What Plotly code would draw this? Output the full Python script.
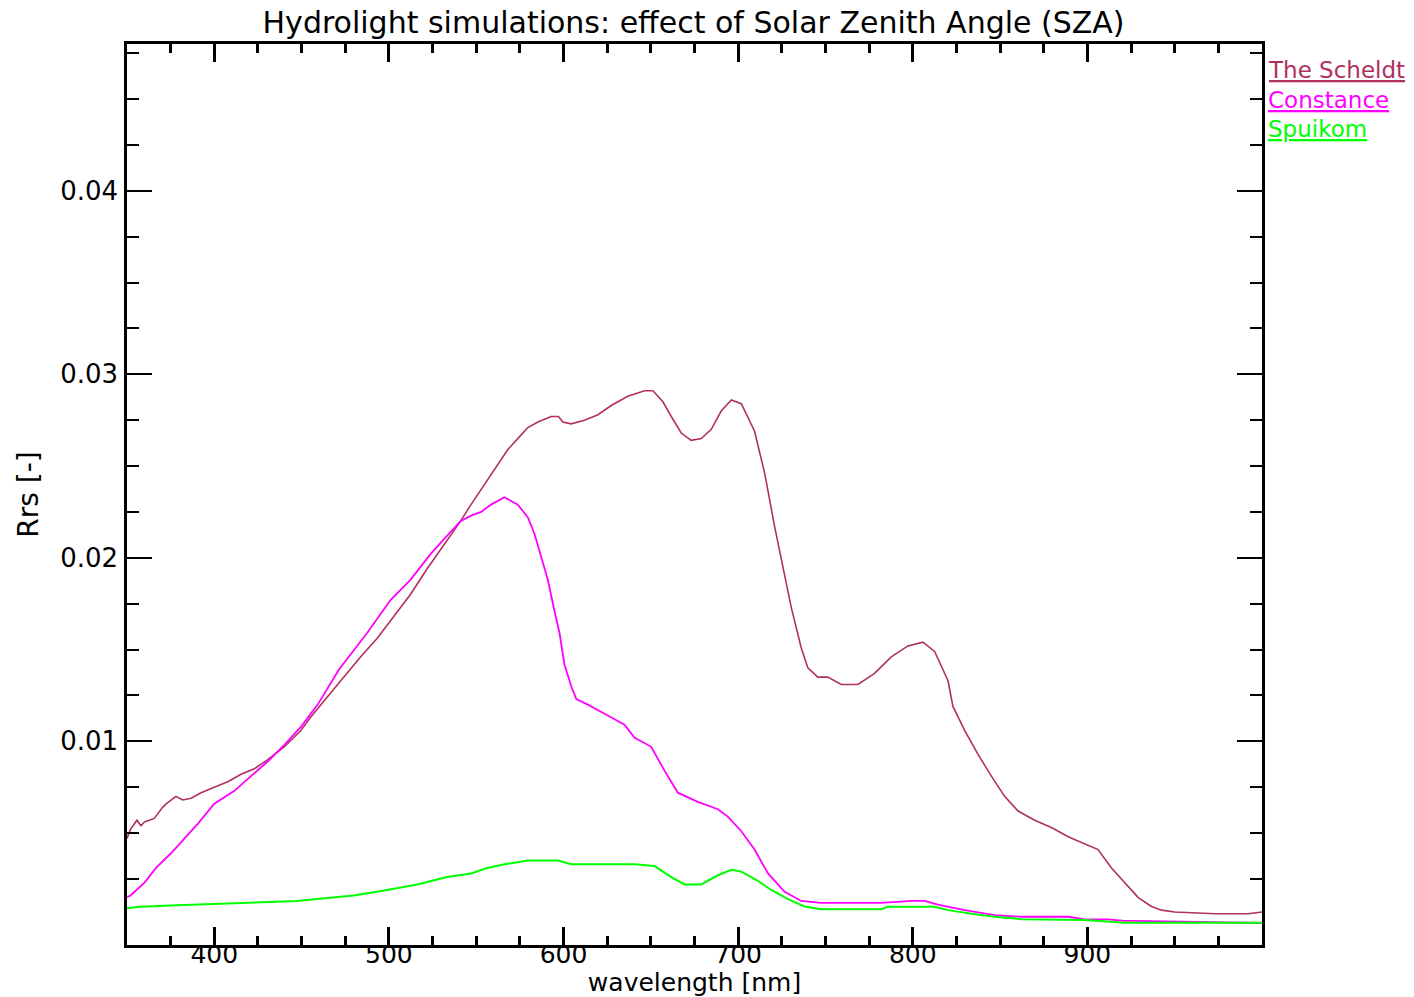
import plotly.graph_objects as go

# ---------------- data ----------------
series_names = ["The Scheldt", "Constance", "Spuikom"]
series_colors = ["#B03060", "#FF00FF", "#00FF00"]

wl_scheldt = [350, 352, 355.7, 358, 360, 365.6, 370.4, 372.6, 378, 382, 386.7, 392.4, 400,
              407.7, 415.3, 422.9, 430.6, 440, 449.7, 455, 464.6, 474.2, 483.7, 493.2, 502.8,
              512.3, 521.9, 531.5, 541, 547, 554.7, 561.4, 568.1, 575.7, 579.6, 585.3, 592.9,
              597.1, 599.6, 604.4, 612, 619.7, 627.3, 636.8, 646.4, 651.2, 656.9, 661.7, 667.4,
              673.1, 678.9, 684.6, 690.3, 696.1, 701.8, 709.4, 715.2, 720.9, 724.7, 730.4,
              736.1, 739.9, 745.6, 751.4, 759, 768.6, 778.1, 787.7, 797.2, 805.8, 812.5, 820.2,
              823, 829.7, 837.3, 845, 852.6, 860.3, 869.8, 879.4, 889, 898.5, 906.1, 913.8,
              921.4, 929, 936.7, 942.4, 950, 973, 992, 998, 1000]
rrs_scheldt = [0.0047, 0.0052, 0.0057, 0.0054, 0.0056, 0.0058, 0.0064, 0.0066, 0.0070, 0.0068,
               0.0069, 0.0072, 0.0075, 0.0078, 0.0082, 0.0085, 0.0090, 0.0097, 0.0106, 0.0113,
               0.0124, 0.0135, 0.0146, 0.0156, 0.0168, 0.0180, 0.0194, 0.0207, 0.0220, 0.0229,
               0.0240, 0.0250, 0.0259, 0.0267, 0.0271, 0.0274, 0.0277, 0.0277, 0.0274, 0.0273,
               0.0275, 0.0278, 0.0283, 0.0288, 0.0291, 0.0291, 0.0285, 0.0277, 0.0268, 0.0264,
               0.0265, 0.0270, 0.0280, 0.0286, 0.0284, 0.0269, 0.0246, 0.0217, 0.0200, 0.0173,
               0.0151, 0.0140, 0.0135, 0.0135, 0.0131, 0.0131, 0.0137, 0.0146, 0.0152, 0.0154,
               0.0149, 0.0133, 0.0119, 0.0106, 0.0093, 0.0081, 0.0070, 0.0062, 0.0057, 0.0053,
               0.0048, 0.0044, 0.0041, 0.0031, 0.0023, 0.0015, 0.0010, 0.0008, 0.0007, 0.0006,
               0.0006, 0.0007, 0.0007]

wl_constance = [350, 352, 360, 366.6, 375.2, 382.8, 390.5, 400, 411.5, 421, 430.6, 440.1,
                449.7, 459.2, 471.3, 487.5, 500.9, 512.3, 523.8, 531.4, 541, 547, 552.8, 558.5,
                566.2, 573.8, 579.6, 583.4, 587.2, 591, 594.8, 597.7, 600.5, 604.4, 607.3,
                613.9, 623.5, 634.9, 640.6, 650.2, 657.8, 665.5, 676.9, 688.4, 694.1, 701.8,
                709.4, 717.1, 726.6, 736.1, 747.6, 782, 799.2, 806.8, 814.4, 829.7, 846.9,
                862.2, 889, 898.5, 911.8, 921.4, 927, 960, 1000]
rrs_constance = [0.0015, 0.0016, 0.0023, 0.0031, 0.0039, 0.0047, 0.0055, 0.0066, 0.0073,
                 0.0081, 0.0089, 0.0098, 0.0108, 0.0120, 0.0139, 0.0159, 0.0177, 0.0188,
                 0.0202, 0.0210, 0.0220, 0.0223, 0.0225, 0.0229, 0.0233, 0.0229, 0.0222,
                 0.0213, 0.0200, 0.0188, 0.0171, 0.0159, 0.0142, 0.0130, 0.0123, 0.0120,
                 0.0115, 0.0109, 0.0102, 0.0097, 0.0084, 0.0072, 0.0067, 0.0063, 0.0059,
                 0.0051, 0.0041, 0.0028, 0.0018, 0.0013, 0.0012, 0.0012, 0.0013, 0.0013,
                 0.0011, 0.0008, 0.00053, 0.00044, 0.00044, 0.0003, 0.0003, 0.00022, 0.00022,
                 0.00015, 0.0001]

wl_spuikom = [350, 357.6, 378.6, 418.8, 447.4, 458.9, 479.9, 499, 516.2, 533.3, 547.1, 556.3,
              566.2, 579.6, 596.8, 604.4, 640.6, 652.1, 661.7, 669.3, 678.9, 688.4, 696.1,
              701.8, 711.3, 718.9, 728.5, 738, 747.6, 782, 785.8, 812.6, 820.2, 835.5, 846.9,
              862.2, 898.6, 921.4, 1000]
rrs_spuikom = [0.0009, 0.00098, 0.00107, 0.0012, 0.0013, 0.0014, 0.0016, 0.0019, 0.0022,
               0.0026, 0.0028, 0.0031, 0.0033, 0.0035, 0.0035, 0.0033, 0.0033, 0.0032, 0.0026,
               0.0022, 0.0022, 0.0027, 0.0030, 0.0029, 0.0024, 0.0019, 0.0014, 0.0010,
               0.00085, 0.00085, 0.00098, 0.00098, 0.0008, 0.00058, 0.00044, 0.00031,
               0.00026, 0.00011, 0.00011]

x_ticks = [400, 500, 600, 700, 800, 900]
y_ticks = [0.01, 0.02, 0.03, 0.04]
y_tick_labels = ["0.01", "0.02", "0.03", "0.04"]
y_minor = [0.0025, 0.005, 0.0075, 0.0125, 0.015, 0.0175, 0.0225, 0.025, 0.0275,
           0.0325, 0.035, 0.0375, 0.0425, 0.045, 0.0475]

FONT = "DejaVu Sans"

fig = go.Figure()
for wl, rrs, name, col, w in [
    (wl_scheldt, rrs_scheldt, series_names[0], series_colors[0], 1.6),
    (wl_constance, rrs_constance, series_names[1], series_colors[1], 1.8),
    (wl_spuikom, rrs_spuikom, series_names[2], series_colors[2], 2.0),
]:
    fig.add_trace(go.Scatter(x=wl, y=rrs, mode="lines", name=name,
                             line=dict(color=col, width=w), showlegend=False))

# legend as underlined coloured labels to the right of the plot
legend_y = [0.9712, 0.9378, 0.9057]
for name, col, yy in zip(series_names, series_colors, legend_y):
    fig.add_annotation(text="<u>" + name + "</u>", x=1, xref="paper", xshift=4,
                       y=yy, yref="paper", xanchor="left", yanchor="middle",
                       showarrow=False, font=dict(family=FONT, size=23, color=col))

fig.update_layout(
    width=1414, height=997,
    margin=dict(l=127, r=152, t=44, b=52, autoexpand=False),
    paper_bgcolor="white", plot_bgcolor="white",
    font=dict(family=FONT, size=26, color="black"),
    title=dict(text="Hydrolight simulations: effect of Solar Zenith Angle (SZA)",
               x=0.4905, xanchor="center", y=0.977, yanchor="middle",
               font=dict(family=FONT, size=30, color="black")),
)
fig.update_xaxes(
    range=[350, 1000], tickvals=x_ticks, showgrid=False, zeroline=False,
    showline=True, linecolor="black", linewidth=2.5, mirror="allticks",
    ticks="inside", ticklen=18, tickwidth=2.5, tickcolor="black",
    ticklabelstandoff=-15, automargin=False,
    minor=dict(ticks="inside", dtick=25, tick0=0, ticklen=9, tickwidth=2.5,
               tickcolor="black", showgrid=False),
    title=dict(text="wavelength [nm]", standoff=11, font=dict(family=FONT, size=25)),
    tickfont=dict(family=FONT, size=25),
)
fig.update_yaxes(
    range=[-0.0011, 0.048], tickvals=y_ticks, ticktext=y_tick_labels,
    showgrid=False, zeroline=False,
    showline=True, linecolor="black", linewidth=2.5, mirror="allticks",
    ticks="inside", ticklen=25, tickwidth=1.5, tickcolor="black",
    ticklabelstandoff=1, automargin=False,
    minor=dict(ticks="inside", tickmode="array", tickvals=y_minor, ticklen=12,
               tickwidth=1.5, tickcolor="black", showgrid=False),
    title=dict(text="Rrs [-]", standoff=14, font=dict(family=FONT, size=28)),
    tickfont=dict(family=FONT, size=26),
)

fig.write_html("out.html")
